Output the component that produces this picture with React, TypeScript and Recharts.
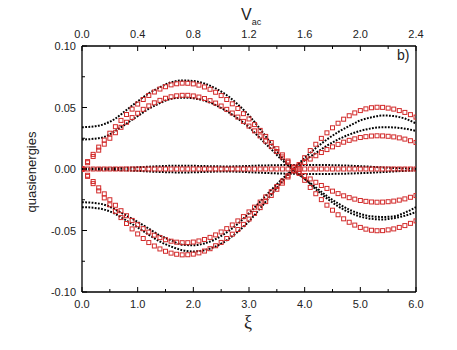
import { LineChart, Line, XAxis, YAxis, ReferenceLine } from "recharts";

// ξ grid of the open-square (red) series
const xiRed = [
  0, 0.1, 0.2, 0.3, 0.4, 0.5, 0.6, 0.7, 0.8, 0.9, 1, 1.1, 1.2, 1.3, 1.4, 1.5, 1.6, 1.7, 1.8, 1.9, 2,
  2.1, 2.2, 2.3, 2.4, 2.5, 2.6, 2.7, 2.8, 2.9, 3, 3.1, 3.2, 3.3, 3.4, 3.5, 3.6, 3.7, 3.8, 3.9, 4,
  4.1, 4.2, 4.3, 4.4, 4.5, 4.6, 4.7, 4.8, 4.9, 5, 5.1, 5.2, 5.3, 5.4, 5.5, 5.6, 5.7, 5.8, 5.9, 6,
];

const redA = [
  0, 0.006, 0.0119, 0.0178, 0.0235, 0.0291, 0.0344, 0.0395, 0.0443, 0.0487,
  0.0528, 0.0565, 0.0598, 0.0626, 0.065, 0.0669, 0.0684, 0.0693, 0.0698, 0.0697,
  0.0692, 0.0682, 0.0667, 0.0648, 0.0624, 0.0597, 0.0565, 0.053, 0.0492, 0.045,
  0.0407, 0.0361, 0.0314, 0.0265, 0.0215, 0.0165, 0.0115, 0.0065, 0.0016, -0.0036,
  -0.0092, -0.015, -0.0201, -0.0249, -0.0294, -0.0335, -0.0372, -0.0405, -0.0433, -0.0456,
  -0.0475, -0.0489, -0.0498, -0.0502, -0.0501, -0.0495, -0.0487, -0.0475, -0.046, -0.0442, -0.0422,
];

const redB = [
  0, 0.0051, 0.0102, 0.0153, 0.0202, 0.025, 0.0295, 0.0339, 0.038, 0.0418,
  0.0453, 0.0485, 0.0513, 0.0538, 0.0558, 0.0575, 0.0587, 0.0595, 0.0599, 0.0599,
  0.0594, 0.0585, 0.0573, 0.0556, 0.0536, 0.0512, 0.0485, 0.0455, 0.0422, 0.0387,
  0.0349, 0.031, 0.0269, 0.0227, 0.0185, 0.0142, 0.0098, 0.0055, 0.0013, -0.0023,
  -0.0053, -0.0081, -0.0108, -0.0134, -0.0158, -0.018, -0.02, -0.0218, -0.0233, -0.0245,
  -0.0256, -0.0263, -0.0268, -0.027, -0.0269, -0.0266, -0.0261, -0.0253, -0.0243, -0.023, -0.0216,
];

const redC = [
  0, -0.006, -0.0119, -0.0178, -0.0235, -0.0291, -0.0344, -0.0395, -0.0443, -0.0487,
  -0.0528, -0.0565, -0.0598, -0.0626, -0.065, -0.0669, -0.0684, -0.0693, -0.0698, -0.0697,
  -0.0692, -0.0682, -0.0667, -0.0648, -0.0624, -0.0597, -0.0565, -0.053, -0.0492, -0.045,
  -0.0407, -0.0361, -0.0314, -0.0265, -0.0215, -0.0165, -0.0115, -0.0065, -0.0016, 0.0036,
  0.0092, 0.015, 0.0201, 0.0249, 0.0294, 0.0335, 0.0372, 0.0405, 0.0433, 0.0456,
  0.0475, 0.0489, 0.0498, 0.0502, 0.0501, 0.0495, 0.0487, 0.0475, 0.046, 0.0442, 0.0422,
];

const redD = [
  0, -0.0051, -0.0102, -0.0153, -0.0202, -0.025, -0.0295, -0.0339, -0.038, -0.0418,
  -0.0453, -0.0485, -0.0513, -0.0538, -0.0558, -0.0575, -0.0587, -0.0595, -0.0599, -0.0599,
  -0.0594, -0.0585, -0.0573, -0.0556, -0.0536, -0.0512, -0.0485, -0.0455, -0.0422, -0.0387,
  -0.0349, -0.031, -0.0269, -0.0227, -0.0185, -0.0142, -0.0098, -0.0055, -0.0013, 0.0023,
  0.0053, 0.0081, 0.0108, 0.0134, 0.0158, 0.018, 0.02, 0.0218, 0.0233, 0.0245,
  0.0256, 0.0263, 0.0268, 0.027, 0.0269, 0.0266, 0.0261, 0.0253, 0.0243, 0.023, 0.0216,
];

// ξ grid of the dotted (black) series
const xiBlack = [
  0, 0.2, 0.4, 0.6, 0.8, 1, 1.2, 1.4, 1.6, 1.8, 2, 2.2, 2.4, 2.6, 2.8, 3,
  3.2, 3.4, 3.6, 3.8, 4, 4.2, 4.4, 4.6, 4.8, 5, 5.2, 5.4, 5.6, 5.8, 6,
];

const blackA = [
  0.034, 0.0345, 0.0365, 0.041, 0.048, 0.055, 0.0615, 0.0665, 0.0705, 0.072,
  0.0715, 0.0695, 0.0655, 0.06, 0.0525, 0.0435, 0.0325, 0.0205, 0.009, -0.001,
  -0.008, -0.0164, -0.0239, -0.0303, -0.0352, -0.0387, -0.0405, -0.041, -0.04, -0.038, -0.035,
];
const blackB = [
  0.024, 0.0245, 0.026, 0.031, 0.037, 0.043, 0.049, 0.0535, 0.057, 0.058,
  0.0575, 0.0555, 0.052, 0.047, 0.041, 0.034, 0.025, 0.016, 0.007, -0.001,
  -0.008, -0.015, -0.022, -0.028, -0.033, -0.0365, -0.0385, -0.039, -0.0385, -0.0355, -0.031,
];
const blackC = [
  -0.027, -0.0275, -0.029, -0.033, -0.038, -0.043, -0.0485, -0.054, -0.058, -0.0615,
  -0.062, -0.0605, -0.057, -0.0515, -0.0445, -0.036, -0.0265, -0.017, -0.008, 0,
  0.007, 0.013, 0.019, 0.024, 0.028, 0.031, 0.033, 0.034, 0.0338, 0.0328, 0.031,
];
const blackD = [
  -0.031, -0.0315, -0.033, -0.0365, -0.042, -0.0475, -0.0535, -0.059, -0.063, -0.066,
  -0.067, -0.066, -0.063, -0.058, -0.051, -0.0425, -0.032, -0.021, -0.01, 0,
  0.009, 0.017, 0.024, 0.03, 0.035, 0.0395, 0.042, 0.0435, 0.043, 0.041, 0.037,
];
const blackZ1 = [
  0.0005, 0.0005, 0.0006, 0.0008, 0.001, 0.0014, 0.0019, 0.0023, 0.0026, 0.0027,
  0.0026, 0.0024, 0.0022, 0.0021, 0.0022, 0.0025, 0.0028, 0.003, 0.0032, 0.0033,
  0.0033, 0.0033, 0.0032, 0.003, 0.0027, 0.0023, 0.0018, 0.0013, 0.0009, 0.0006, 0.0004,
];
const blackZ2 = [
  -0.0005, -0.0005, -0.0006, -0.0008, -0.0011, -0.0015, -0.002, -0.0024, -0.0027, -0.0028,
  -0.0027, -0.0024, -0.0021, -0.002, -0.0022, -0.0026, -0.003, -0.0034, -0.0037, -0.0039,
  -0.004, -0.004, -0.004, -0.0039, -0.0037, -0.0034, -0.003, -0.0025, -0.002, -0.0015, -0.0011,
];

const xiTicks = [0, 0.5, 1, 1.5, 2, 2.5, 3, 3.5, 4, 4.5, 5, 5.5, 6];
const xiLabels = ["0.0", "1.0", "2.0", "3.0", "4.0", "5.0", "6.0"];
const vacLabels = ["0.0", "0.4", "0.8", "1.2", "1.6", "2.0", "2.4"];
const yTicks = [-0.1, -0.075, -0.05, -0.025, 0, 0.025, 0.05, 0.075, 0.1];
const yLabels = ["-0.10", "-0.05", "0.00", "0.05", "0.10"];

const redRows = xiRed.map((xi, i) => ({
  xi,
  a: redA[i],
  b: redB[i],
  c: redC[i],
  d: redD[i],
  zero: 0, // flat branch sitting on 0
}));

const blackRows = xiBlack.map((xi, i) => ({
  xi,
  a: blackA[i],
  b: blackB[i],
  c: blackC[i],
  d: blackD[i],
  z1: blackZ1[i],
  z2: blackZ2[i],
}));

const W = 457;
const H = 350;
const PLOT_LEFT = 82;
const PLOT_TOP = 46;
const PLOT_BOTTOM = 292;
const FONT = "'Liberation Sans', Arial, sans-serif";
const RED = "#d22a2a";

const RedSquare = (props: any) => {
  const { cx, cy, index } = props;
  if (cx == null || cy == null) return null;
  return (
    <rect
      key={index}
      x={cx - 2}
      y={cy - 2}
      width={4}
      height={4}
      fill="none"
      stroke={RED}
      strokeWidth={1}
    />
  );
};

const BottomTick = (props: any) => {
  const { x, payload } = props;
  const v = payload.value;
  const major = Number.isInteger(v);
  return (
    <g>
      <line x1={x} x2={x} y1={PLOT_BOTTOM} y2={PLOT_BOTTOM - (major ? 5 : 3)} stroke="#000" />
      {major && (
        <text x={x} y={PLOT_BOTTOM + 16} textAnchor="middle" fontSize={11} fontFamily={FONT} fill="#222">
          {xiLabels[v]}
        </text>
      )}
    </g>
  );
};

const TopTick = (props: any) => {
  const { x, payload } = props;
  const v = payload.value;
  const major = Number.isInteger(v);
  return (
    <g>
      <line x1={x} x2={x} y1={PLOT_TOP} y2={PLOT_TOP + (major ? 5 : 3)} stroke="#000" />
      {major && (
        <text x={x} y={PLOT_TOP - 8} textAnchor="middle" fontSize={11} fontFamily={FONT} fill="#222">
          {vacLabels[v]}
        </text>
      )}
    </g>
  );
};

const LeftTick = (props: any) => {
  const { y, index } = props;
  const major = index % 2 === 0;
  return (
    <g>
      <line x1={PLOT_LEFT} x2={PLOT_LEFT + (major ? 5 : 3)} y1={y} y2={y} stroke="#000" />
      {major && (
        <text x={PLOT_LEFT - 6} y={y + 4} textAnchor="end" fontSize={11} fontFamily={FONT} fill="#222">
          {yLabels[index / 2]}
        </text>
      )}
    </g>
  );
};

export default function App() {
  return (
    <div style={{ position: "absolute", left: 0, top: 0, width: W, height: H, background: "#fff" }}>
      <LineChart width={W} height={H} margin={{ top: 16, right: 41, bottom: 28, left: 32 }}>
        <XAxis
          dataKey="xi"
          type="number"
          domain={[0, 6]}
          ticks={xiTicks}
          allowDataOverflow
          height={30}
          tickLine={false}
          tick={<BottomTick />}
          axisLine={{ stroke: "#000", strokeWidth: 1.3 }}
        />
        <XAxis
          xAxisId="top"
          orientation="top"
          dataKey="xi"
          type="number"
          domain={[0, 6]}
          ticks={xiTicks}
          allowDataOverflow
          height={30}
          tickLine={false}
          tick={<TopTick />}
          axisLine={{ stroke: "#000", strokeWidth: 1.3 }}
        />
        <YAxis
          type="number"
          domain={[-0.1, 0.1]}
          ticks={yTicks}
          allowDataOverflow
          width={50}
          tickLine={false}
          tick={<LeftTick />}
          axisLine={{ stroke: "#000", strokeWidth: 1.3 }}
        />
        <ReferenceLine x={6} stroke="#000" strokeWidth={1.3} />

        {/* black dotted branches */}
        {["a", "b", "c", "d", "z2"].map((k) => (
          <Line
            key={k}
            data={blackRows}
            dataKey={k}
            type="monotone"
            stroke="#000"
            strokeWidth={2}
            strokeDasharray="1.8 1.4"
            dot={false}
            activeDot={false}
            isAnimationActive={false}
          />
        ))}
        <Line
          xAxisId="top"
          data={blackRows}
          dataKey="z1"
          type="monotone"
          stroke="#000"
          strokeWidth={2}
          strokeDasharray="1.8 1.4"
          dot={false}
          activeDot={false}
          isAnimationActive={false}
        />

        {/* red open-square branches */}
        {["zero", "a", "b", "c", "d"].map((k) => (
          <Line
            key={"r" + k}
            data={redRows}
            dataKey={k}
            stroke="none"
            dot={RedSquare}
            activeDot={false}
            isAnimationActive={false}
          />
        ))}

        <text
          x={36}
          y={172}
          transform="rotate(-90 36 172)"
          textAnchor="middle"
          fontSize={13}
          fontFamily={FONT}
          fill="#222"
        >
          quasienergies
        </text>
        <text x={248} y={328} textAnchor="middle" fontSize={18} fontFamily="'Liberation Serif', 'DejaVu Serif', serif" fill="#222">
          ξ
        </text>
        <text x={241} y={20} fontSize={16} fontFamily={FONT} fill="#222">
          V
          <tspan fontSize={9} dy={5}>ac</tspan>
        </text>
        <text x={397} y={60} fontSize={14} fontFamily={FONT} fill="#222">
          b)
        </text>
      </LineChart>
    </div>
  );
}
